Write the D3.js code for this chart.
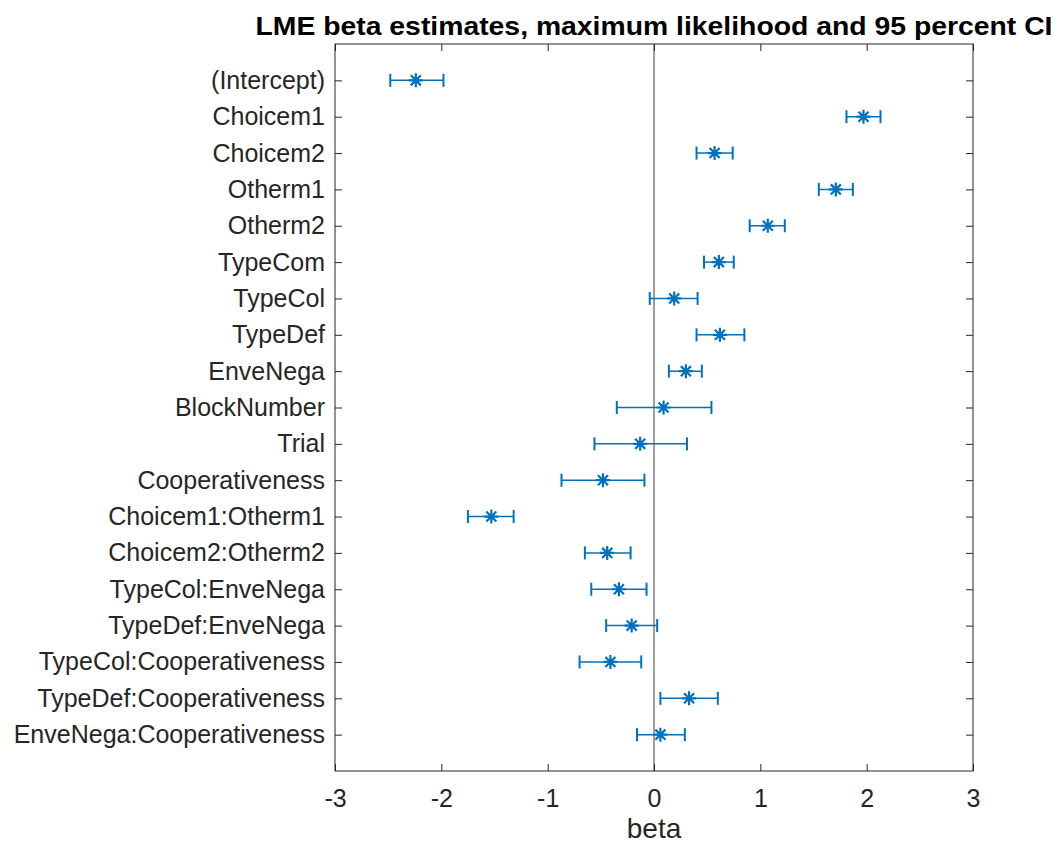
<!DOCTYPE html>
<html>
<head>
<meta charset="utf-8">
<script src="https://cdn.jsdelivr.net/npm/d3@7"></script>
<style>
  body { margin: 0; background: #fff; }
  text { font-family: "Liberation Sans", Arial, Helvetica, sans-serif; fill: #262626; }
</style>
</head>
<body>
<svg id="mainSvg" width="1063" height="843"></svg>
<script>
// coefficient names, top to bottom
var terms = ["(Intercept)", "Choicem1", "Choicem2", "Otherm1", "Otherm2", "TypeCom",
  "TypeCol", "TypeDef", "EnveNega", "BlockNumber", "Trial", "Cooperativeness",
  "Choicem1:Otherm1", "Choicem2:Otherm2", "TypeCol:EnveNega", "TypeDef:EnveNega",
  "TypeCol:Cooperativeness", "TypeDef:Cooperativeness", "EnveNega:Cooperativeness"];

// maximum likelihood estimates
var estimate = [-2.24, 1.97, 0.57, 1.71, 1.07, 0.61, 0.19, 0.62, 0.30, 0.09, -0.13, -0.48,
  -1.53, -0.44, -0.33, -0.21, -0.41, 0.33, 0.06];
// 95 percent CI bounds
var lower = [-2.48, 1.81, 0.40, 1.55, 0.90, 0.47, -0.04, 0.40, 0.14, -0.35, -0.56, -0.87,
  -1.75, -0.65, -0.59, -0.45, -0.70, 0.06, -0.16];
var upper = [-1.98, 2.13, 0.74, 1.87, 1.23, 0.75, 0.41, 0.85, 0.45, 0.54, 0.31, -0.09,
  -1.32, -0.22, -0.07, 0.03, -0.12, 0.60, 0.29];

var xTicks = [-3, -2, -1, 0, 1, 2, 3];

var rows = terms.map(function(t, i) {
  return { term: t, idx: i + 1, est: estimate[i], lo: lower[i], hi: upper[i] };
});

var margin = {top: 44, right: 90, bottom: 72, left: 335},
    width = 1063 - margin.left - margin.right,
    height = 843 - margin.top - margin.bottom;

var x = d3.scaleLinear().domain([-3, 3]).range([0, width]);
var y = d3.scaleLinear().domain([0, terms.length + 1]).range([0, height]);

var svg = d3.select("#mainSvg");
var g = svg.append("g").attr("transform", "translate(" + margin.left + "," + margin.top + ")");

var blue = "#0072BD";
var axisCol = "#262626";
var tickLen = 7;

// zero line
g.append("line")
  .attr("x1", x(0)).attr("x2", x(0))
  .attr("y1", 0).attr("y2", height)
  .attr("stroke", "#7f7f7f").attr("stroke-width", 1.5);

// x axis bottom, ticks inward
var xAxisB = g.append("g").attr("transform", "translate(0," + height + ")")
  .call(d3.axisBottom(x).tickValues(xTicks).tickSizeInner(-tickLen).tickSizeOuter(0)
    .tickPadding(tickLen + 11).tickFormat(function(d) { return String(d); }));
var xAxisT = g.append("g")
  .call(d3.axisTop(x).tickValues(xTicks).tickSizeInner(-tickLen).tickSizeOuter(0).tickFormat(""));

// y axis left and right
var yAxisL = g.append("g")
  .call(d3.axisLeft(y).tickValues(rows.map(function(d) { return d.idx; }))
    .tickFormat(function(d) { return terms[d - 1]; })
    .tickSizeInner(-tickLen).tickSizeOuter(0).tickPadding(10));
var yAxisR = g.append("g").attr("transform", "translate(" + width + ",0)")
  .call(d3.axisRight(y).tickValues(rows.map(function(d) { return d.idx; }))
    .tickSizeInner(-tickLen).tickSizeOuter(0).tickFormat(""));

[xAxisB, xAxisT, yAxisL, yAxisR].forEach(function(a) {
  a.select(".domain").remove();
  a.selectAll(".tick line").attr("stroke", axisCol).attr("stroke-width", 1);
  a.selectAll("text").style("font-size", "25px").attr("fill", axisCol)
    .style("font-family", "'Liberation Sans', Arial, sans-serif");
});
xAxisB.selectAll(".tick text").attr("dy", "0.71em");

// box
g.append("rect").attr("x", 0).attr("y", 0).attr("width", width).attr("height", height)
  .attr("fill", "none").attr("stroke", axisCol).attr("stroke-width", 1);

// error bars
var capH = 6.5;
var bars = g.selectAll(".ebar").data(rows).enter().append("g").attr("class", "ebar");
bars.append("line")
  .attr("x1", function(d) { return x(d.lo); }).attr("x2", function(d) { return x(d.hi); })
  .attr("y1", function(d) { return y(d.idx); }).attr("y2", function(d) { return y(d.idx); })
  .attr("stroke", blue).attr("stroke-width", 1.5);
bars.append("line")
  .attr("x1", function(d) { return x(d.lo); }).attr("x2", function(d) { return x(d.lo); })
  .attr("y1", function(d) { return y(d.idx) - capH; }).attr("y2", function(d) { return y(d.idx) + capH; })
  .attr("stroke", blue).attr("stroke-width", 2);
bars.append("line")
  .attr("x1", function(d) { return x(d.hi); }).attr("x2", function(d) { return x(d.hi); })
  .attr("y1", function(d) { return y(d.idx) - capH; }).attr("y2", function(d) { return y(d.idx) + capH; })
  .attr("stroke", blue).attr("stroke-width", 2);

// asterisk markers (plus + cross)
var r = 7, rd = r * 0.72;
var star = "M" + (-r) + ",0L" + r + ",0M0," + (-r) + "L0," + r +
  "M" + (-rd) + "," + (-rd) + "L" + rd + "," + rd + "M" + (-rd) + "," + rd + "L" + rd + "," + (-rd);
bars.append("path")
  .attr("d", star)
  .attr("transform", function(d) { return "translate(" + x(d.est) + "," + y(d.idx) + ")"; })
  .attr("fill", "none").attr("stroke", blue).attr("stroke-width", 2.2);

// labels
svg.append("text")
  .attr("x", margin.left + width / 2).attr("y", 838)
  .attr("text-anchor", "middle").style("font-size", "28px")
  .text("beta");

svg.append("text")
  .attr("x", margin.left + width / 2).attr("y", 35)
  .attr("text-anchor", "middle").style("font-size", "25px").style("font-weight", "bold")
  .attr("fill", "#000").style("fill", "#000")
  .attr("textLength", 797).attr("lengthAdjust", "spacingAndGlyphs")
  .text("LME beta estimates, maximum likelihood and 95 percent CI");
</script>
</body>
</html>
